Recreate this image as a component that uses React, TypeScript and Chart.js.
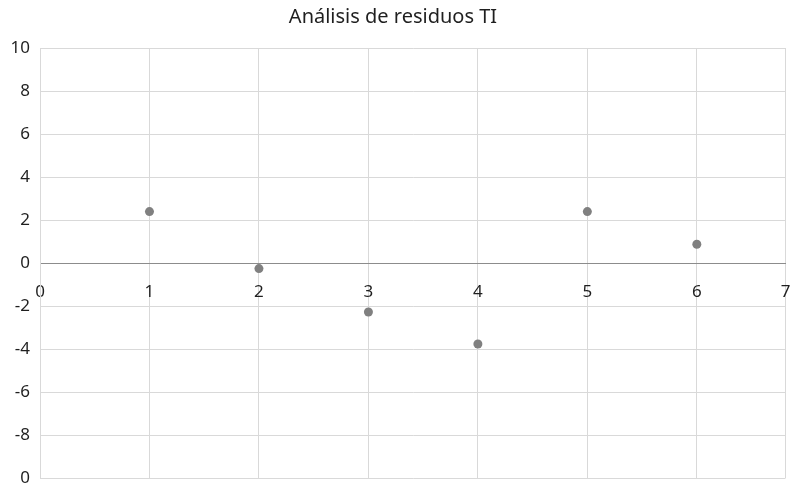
import { useEffect, useRef } from "react";
import { Chart, registerables } from "chart.js";

Chart.register(...registerables);

const TITLE = "Análisis de residuos TI";

// Observations and their residuals
const X_VALUES = [1, 2, 3, 4, 5, 6];
const RESIDUALS = [2.39, -0.26, -2.28, -3.77, 2.39, 0.87];

// Horizontal axis: integer ticks, the last one sits on the plot's right edge
const X_TICK_VALUES = [0, 1, 2, 3, 4, 5, 6, 6.81];
const X_TICK_LABELS = ["0", "1", "2", "3", "4", "5", "6", "7"];

// Vertical axis ticks (bottom to top) and the labels printed for them
const Y_TICK_VALUES = [-10, -8, -6, -4, -2, 0, 2, 4, 6, 8, 10];
const Y_TICK_LABELS = ["0", "-8", "-6", "-4", "-2", "0", "2", "4", "6", "8", "10"];

const FONT = "'Noto Sans', 'Open Sans', sans-serif";
const TEXT_COLOR = "#1f1f1f";
const GRID_COLOR = "#d9d9d9";
const AXIS_COLOR = "#8c8c8c";
const POINT_COLOR = "#808080";

export default function App() {
  const canvasRef = useRef<HTMLCanvasElement | null>(null);

  useEffect(() => {
    if (!canvasRef.current) return;
    const chart = new Chart(canvasRef.current, {
      type: "scatter",
      data: {
        datasets: [
          {
            label: TITLE,
            data: X_VALUES.map((x, i) => ({ x, y: RESIDUALS[i] })),
            backgroundColor: POINT_COLOR,
            borderWidth: 0,
            pointRadius: 4.5,
            pointHoverRadius: 4.5,
          },
        ],
      },
      options: {
        animation: false,
        responsive: true,
        maintainAspectRatio: false,
        layout: { padding: { left: 0, right: 4, top: 0, bottom: 10 } },
        plugins: {
          legend: { display: false },
          tooltip: { enabled: false },
          title: {
            display: true,
            text: TITLE,
            color: TEXT_COLOR,
            font: { family: FONT, size: 20, weight: "normal" },
            padding: { top: 5, bottom: 19 },
          },
        },
        scales: {
          x: {
            type: "linear",
            position: { y: 0 },
            min: X_TICK_VALUES[0],
            max: X_TICK_VALUES[X_TICK_VALUES.length - 1],
            afterBuildTicks: (scale: any) => {
              scale.ticks = X_TICK_VALUES.map((value) => ({ value }));
            },
            afterFit: (scale: any) => {
              // edge labels may hang over the plot; keep the plot full width
              scale.paddingLeft = 0;
              scale.paddingRight = 0;
            },
            ticks: {
              color: TEXT_COLOR,
              font: { family: FONT, size: 17 },
              padding: 19,
              maxRotation: 0,
              autoSkip: false,
              callback: (_v: any, i: number) => X_TICK_LABELS[i],
            },
            grid: { color: GRID_COLOR, drawTicks: false },
            border: { color: AXIS_COLOR, width: 1 },
          },
          y: {
            type: "linear",
            min: Y_TICK_VALUES[0],
            max: Y_TICK_VALUES[Y_TICK_VALUES.length - 1],
            afterBuildTicks: (scale: any) => {
              scale.ticks = Y_TICK_VALUES.map((value) => ({ value }));
            },
            afterFit: (scale: any) => {
              scale.width = 40;
              scale.paddingTop = 0;
              scale.paddingBottom = 0;
            },
            ticks: {
              color: TEXT_COLOR,
              font: { family: FONT, size: 17 },
              padding: 10,
              autoSkip: false,
              callback: (_v: any, i: number) => Y_TICK_LABELS[i],
            },
            grid: { color: GRID_COLOR, drawTicks: false },
            border: { color: GRID_COLOR, width: 1 },
          },
        },
      },
    });
    return () => chart.destroy();
  }, []);

  return (
    <div
      style={{
        position: "fixed",
        left: 0,
        top: 0,
        width: 790,
        height: 488,
        background: "#ffffff",
      }}
    >
      <canvas ref={canvasRef} />
    </div>
  );
}
